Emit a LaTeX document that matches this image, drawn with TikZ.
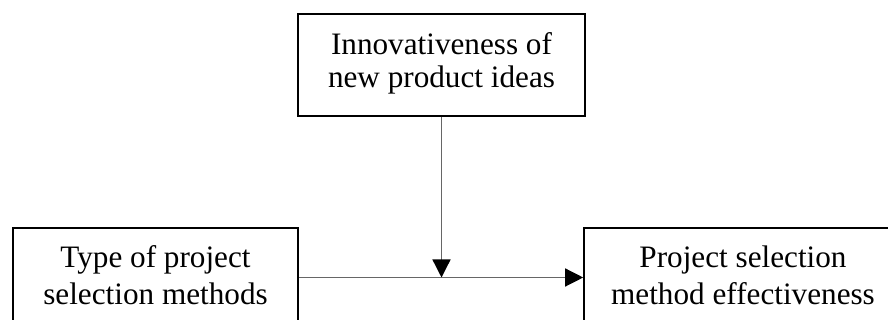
\documentclass[tikz,border=0pt]{standalone}
\usepackage{fontspec}
\setmainfont{Liberation Serif}
\usetikzlibrary{arrows.meta}
\tikzset{
  boxnode/.style={draw=black, line width=1.6pt, inner sep=0pt},
  txttop/.style={inner sep=0pt, align=center, anchor=base,
    font=\fontsize{31.2}{33}\selectfont},
  txtlow/.style={inner sep=0pt, align=center, anchor=base,
    font=\fontsize{31.2}{37}\selectfont},
  conn/.style={draw=black!60, line width=1.3pt,
    -{Triangle[length=18pt,width=18pt,color=black]}}
}
\begin{document}
\begin{tikzpicture}[x=1pt,y=1pt]
\useasboundingbox (0,0) rectangle (888,320);
\node[boxnode, minimum width=287pt, minimum height=102pt] (innov) at (441.5,255) {};
\node[boxnode, minimum width=285pt, minimum height=99pt] (type) at (155.5,42.5) {};
\node[boxnode, minimum width=318pt, minimum height=99pt] (eff) at (743,42.5) {};
\node[txttop] (innovt) at (441.5,232) {Innovativeness of\\new product ideas};
\node[txtlow] (typet) at (155.5,15) {Type of project\\selection methods};
\node[txtlow] (efft) at (743,15) {Project selection\\method effectiveness};
\coordinate (meet) at (innov.south |- type.east);
\draw[conn] (type.east) -- (eff.west);
\draw[conn] (innov.south) -- (meet);
\end{tikzpicture}
\end{document}
